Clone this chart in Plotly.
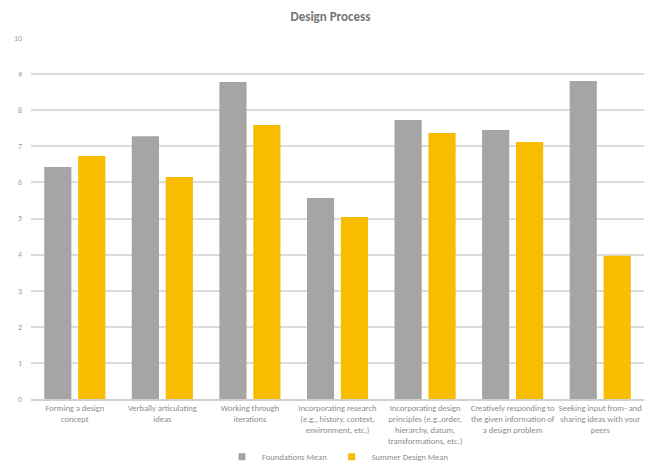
import plotly.graph_objects as go

categories = [
    "Forming a design<br>concept",
    "Verbally articulating<br>ideas",
    "Working through<br>iterations",
    "Incorporating research<br>(e.g., history, context,<br>environment, etc.)",
    "Incorporating design<br>principles (e.g.,order,<br>hierarchy, datum,<br>transformations, etc.)",
    "Creatively responding to<br>the given information of<br>a design problem",
    "Seeking input from- and<br>sharing ideas with your<br>peers",
]
series_names = ["Foundations Mean", "Summer Design Mean"]
foundations_mean = [6.43, 7.28, 8.78, 5.57, 7.73, 7.45, 8.81]
summer_mean = [6.73, 6.15, 7.59, 5.04, 7.37, 7.12, 3.97]
y_ticks = [0, 1, 2, 3, 4, 5, 6, 7, 8, 9, 10]
colors = ["#a5a5a5", "#f8bc00"]

FONT = "Carlito, Lato, 'Open Sans', sans-serif"

fig = go.Figure()
for name, vals, col in zip(series_names, [foundations_mean, summer_mean], colors):
    fig.add_trace(go.Bar(x=categories, y=vals, name=name, showlegend=False,
                         marker=dict(color=col, line=dict(width=0))))
for name, col in zip(series_names, colors):
    fig.add_trace(go.Scatter(x=[None], y=[None], name=name, mode="markers",
                             marker=dict(symbol="square", size=7, color=col)))

fig.update_layout(
    width=648, height=465,
    margin=dict(l=31, r=4, t=38, b=66, autoexpand=False),
    paper_bgcolor="white", plot_bgcolor="white",
    barmode="group", bargap=0.225, bargroupgap=0.2,
    title=dict(text="<b>Design Process</b>", x=0.51, xanchor="center", y=0.965, yanchor="middle",
               font=dict(family=FONT, size=13, color="#757575")),
    font=dict(family=FONT, color="#8c8c8c"),
    showlegend=True,
    legend=dict(orientation="h", x=0.5, xanchor="center", yref="container", y=0.018, yanchor="middle",
                bgcolor="rgba(0,0,0,0)",
                font=dict(family=FONT, size=8.5, color="#8c8c8c"),
                itemwidth=30, traceorder="normal", tracegroupgap=0),
)
fig.update_xaxes(tickfont=dict(family=FONT, size=8.5, color="#8c8c8c"), tickangle=0,
                 automargin=False,
                 showline=True, linecolor="#d0d0d0", linewidth=1.5, ticks="", showgrid=False)
fig.update_yaxes(range=[0, 10], tickvals=y_ticks, showgrid=True, gridcolor="#dcdcdc", gridwidth=1.5,
                 tickfont=dict(family=FONT, size=8, color="#a0a0a0"), zeroline=False,
                 automargin=False, ticks="", ticklabelstandoff=8)

fig.write_html("out.html")
